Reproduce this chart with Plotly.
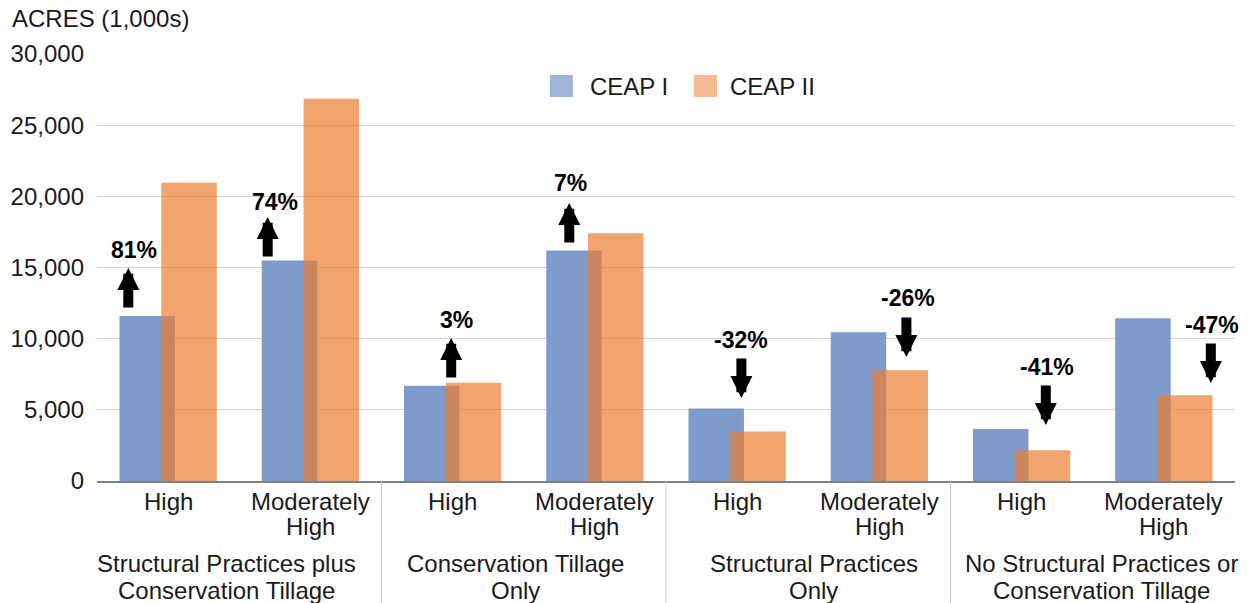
import plotly.graph_objects as go

# ---- data ----
groups = ["Structural Practices plus<br>Conservation Tillage", "Conservation Tillage<br>Only",
          "Structural Practices<br>Only", "No Structural Practices or<br>Conservation Tillage"]
levels = ["High", "Moderately<br>High"] * 4
ceap1 = [11600, 15500, 6700, 16200, 5100, 10450, 3650, 11430]
ceap2 = [20950, 26850, 6900, 17400, 3470, 7780, 2160, 6020]
pct_labels = ["81%", "74%", "3%", "7%", "-32%", "-26%", "-41%", "-47%"]
y_ticks = [0, 5000, 10000, 15000, 20000, 25000, 30000]

# ---- layout helpers (annotation placement) ----
arrow_x = [-0.28, 0.70, 1.99, 2.82, 4.03, 5.19, 6.17, 7.33]
arrow_tip_y = [14970, 18550, 10050, 19530, 5830, 8710, 3930, 6890]
label_x = [-0.24, 0.75, 2.03, 2.83, 4.03, 5.20, 6.18, 7.34]
label_y = [16230, 19600, 11310, 20940, 9910, 12860, 8010, 10960]
group_x = [0.41, 2.44, 4.54, 6.56]

x = list(range(len(ceap1)))
FONT = "Liberation Sans, Arial, sans-serif"
TXT = "#1a1a1a"
BLUE = "#7F9BCB"
ORANGE = "rgba(237,125,49,0.70)"
FS = 24

fig = go.Figure()
fig.add_trace(go.Bar(x=x, y=ceap1, name="CEAP I", width=0.39, offset=-0.342,
                     marker=dict(color=BLUE, line=dict(width=0)), showlegend=False))
fig.add_trace(go.Bar(x=x, y=ceap2, name="CEAP II", width=0.39, offset=-0.048,
                     marker=dict(color=ORANGE, line=dict(width=0)), showlegend=False))

ann = []
shapes = []
for i in range(len(ceap1)):
    up = ceap2[i] >= ceap1[i]
    ann.append(dict(x=arrow_x[i], y=arrow_tip_y[i], xref="x", yref="y", text="",
                    showarrow=True, arrowhead=2, arrowwidth=10, arrowsize=0.44,
                    arrowcolor="black", ax=0, ay=(41 if up else -41)))
    ann.append(dict(x=label_x[i], y=label_y[i], xref="x", yref="y", text="<b>%s</b>" % pct_labels[i],
                    showarrow=False, font=dict(size=23, color="black", family=FONT)))
    lines = levels[i].split("<br>")
    for j, ln in enumerate(lines):
        ann.append(dict(x=i, y=0, xref="x", yref="paper", text=ln, showarrow=False,
                        yanchor="middle", yshift=-20 - 25 * j,
                        font=dict(size=FS, color=TXT, family=FONT)))
for g, name in enumerate(groups):
    for j, ln in enumerate(name.split("<br>")):
        ann.append(dict(x=group_x[g], y=0, xref="x", yref="paper", text=ln, showarrow=False,
                        yanchor="middle", yshift=-82 - 27 * j,
                        font=dict(size=FS, color=TXT, family=FONT)))
for sep in [1.5, 3.5, 5.5]:
    shapes.append(dict(type="line", xref="x", yref="paper", x0=sep, x1=sep, y0=0, y1=-0.29,
                       line=dict(color="#c8c8c8", width=1)))

ann.append(dict(x=-0.0765, y=1.084, xref="paper", yref="paper", text="ACRES (1,000s)",
                showarrow=False, xanchor="left", yanchor="middle",
                font=dict(size=FS, color=TXT, family=FONT)))
leg = [("CEAP I", "rgba(127,155,203,0.75)", 0.398, 0.4315),
       ("CEAP II", "rgba(244,170,120,0.8)", 0.5246, 0.5545)]
for name, col, sx, tx in leg:
    shapes.append(dict(type="rect", xref="paper", yref="paper", x0=sx, x1=sx + 0.0202,
                       y0=0.8993, y1=0.9508, fillcolor=col, line=dict(width=0)))
    ann.append(dict(x=tx, y=0.925, xref="paper", yref="paper", text=name, showarrow=False,
                    xanchor="left", yanchor="middle", font=dict(size=FS, color=TXT, family=FONT)))

fig.update_layout(
    width=1247, height=603, barmode="overlay",
    margin=dict(l=97, r=12, t=54, b=122),
    plot_bgcolor="white", paper_bgcolor="white",
    annotations=ann, shapes=shapes,
    font=dict(family=FONT, color=TXT),
)
fig.update_xaxes(range=[-0.5, 7.5], showticklabels=False, showgrid=False, zeroline=False,
                 showline=True, linecolor="#808080", linewidth=1.5, ticks="")
fig.update_yaxes(range=[0, 30000], tickvals=y_ticks, tickformat=",", showgrid=True,
                 gridcolor="#d4d4d4", gridwidth=1.2, zeroline=False, ticks="",
                 ticklabelstandoff=12, tickfont=dict(size=FS, color=TXT, family=FONT))

fig.write_html("out.html", config={"displayModeBar": False},
               post_script="document.body.style.margin='0px';document.body.style.overflow='hidden';")
